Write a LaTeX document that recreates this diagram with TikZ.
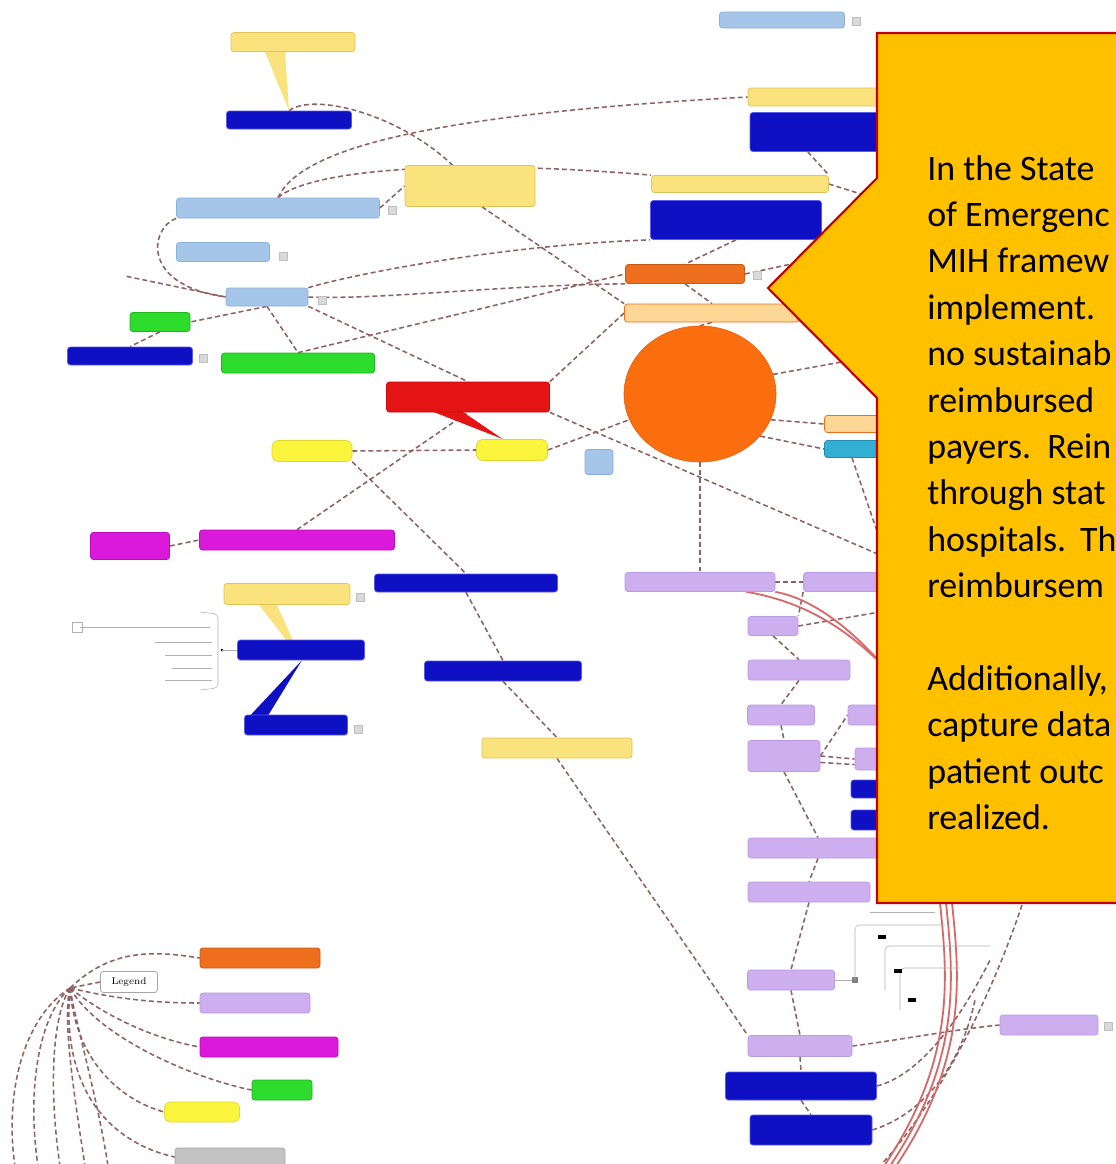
\documentclass[tikz,border=0pt]{standalone}
\usepackage{fontspec}
\newfontfamily\calloutfont{Carlito}
\usetikzlibrary{calc}
\usetikzlibrary{shapes.geometric}

\definecolor{paleyellow}{RGB}{250,226,125}
\definecolor{paleyellowdk}{RGB}{225,195,90}
\definecolor{brightyellow}{RGB}{250,245,60}
\definecolor{brightyellowdk}{RGB}{225,215,50}
\definecolor{deepblue}{RGB}{15,15,195}
\definecolor{deepbluelt}{RGB}{90,90,235}
\definecolor{skyblue}{RGB}{165,198,232}
\definecolor{skybluedk}{RGB}{140,175,215}
\definecolor{mindorange}{RGB}{238,112,30}
\definecolor{mindorangedk}{RGB}{200,90,20}
\definecolor{paleorange}{RGB}{252,215,150}
\definecolor{mindgreen}{RGB}{45,220,45}
\definecolor{mindgreendk}{RGB}{30,180,30}
\definecolor{mindred}{RGB}{228,20,20}
\definecolor{mindreddk}{RGB}{200,10,10}
\definecolor{mindmag}{RGB}{218,25,218}
\definecolor{mindmagdk}{RGB}{190,10,190}
\definecolor{lilac}{RGB}{205,175,240}
\definecolor{lilacdk}{RGB}{185,155,225}
\definecolor{mindcyan}{RGB}{50,175,210}
\definecolor{mindcyandk}{RGB}{30,140,180}
\definecolor{lightgrey}{RGB}{195,195,195}
\definecolor{midgrey}{RGB}{165,165,165}
\definecolor{hubfill}{RGB}{250,110,15}
\definecolor{hubdk}{RGB}{230,95,10}
\definecolor{linkbrown}{RGB}{140,98,98}
\definecolor{bandred}{RGB}{215,105,105}
\definecolor{calloutfill}{RGB}{255,192,0}
\definecolor{calloutred}{RGB}{192,0,0}

\pgfdeclarelayer{background}
\pgfsetlayers{background,main}

\begin{document}
\begin{tikzpicture}[
        x=0.025cm, y=-0.025cm,
        mapbox/.style={rounded corners=2pt, inner sep=0pt, line width=0.5pt},
        sz/.style 2 args={minimum width=#1*0.025cm, minimum height=#2*0.025cm},
        paleybox/.style={mapbox, fill=paleyellow, draw=paleyellowdk},
        ybox/.style={mapbox, rounded corners=4pt, fill=brightyellow, draw=brightyellowdk},
        bbox/.style={mapbox, fill=deepblue, draw=deepbluelt},
        lbbox/.style={mapbox, fill=skyblue, draw=skybluedk},
        obox/.style={mapbox, fill=mindorange, draw=mindorangedk},
        lobox/.style={mapbox, fill=paleorange, draw=mindorange},
        gbox/.style={mapbox, fill=mindgreen, draw=mindgreendk},
        rbox/.style={mapbox, fill=mindred, draw=mindreddk},
        mbox/.style={mapbox, fill=mindmag, draw=mindmagdk},
        pbox/.style={mapbox, fill=lilac, draw=lilacdk},
        cbox/.style={mapbox, fill=mindcyan, draw=mindcyandk},
        gybox/.style={mapbox, fill=lightgrey, draw=midgrey},
        memo/.style={fill=gray!30, draw=gray!50, line width=0.3pt, inner sep=0pt,
            minimum size=0.2cm},
        link/.style={draw=linkbrown, line width=1.1pt, dash pattern=on 3.5pt off 2.2pt},
        redband/.style={draw=bandred, line width=1.3pt},
        listline/.style={draw=gray!60, line width=0.4pt},
        callout/.style={fill=calloutfill, draw=calloutred, line width=1.5pt},
        calltext/.style={font=\calloutfont\fontsize{25.5}{30}\selectfont, inner sep=0pt}
    ]

    \useasboundingbox (0,0) rectangle (1116,1164);

    % upper part of the map
    \node[lbbox, sz={125}{16}] (demand) at (782,20) {};
    \node[paleybox, sz={124}{19}] (partner) at (293,42) {};
    \node[bbox, sz={125}{18}] (major) at (289,120) {};
    \node[paleybox, sz={132}{18}] (innov) at (814,97) {};
    \node[bbox, sz={130}{39}] (payment) at (815,132) {};
    \node[paleybox, sz={130}{41}] (note) at (470,186) {};
    \node[lbbox, sz={203}{20}] (research) at (278,208) {};
    \node[paleybox, sz={177}{17}] (demo) at (740,184) {};
    \node[bbox, sz={171}{39}] (reform) at (736,220) {};
    \node[lbbox, sz={93}{19}] (ehtext) at (223,252) {};
    \node[obox, sz={119}{19}] (policy) at (685,274) {};
    \node[lbbox, sz={82}{18}] (cost) at (267,297) {};
    \node[lobox, sz={175}{18}] (econ) at (712,313) {};
    \node[gbox, sz={60}{19}] (mihcp) at (160,322) {};
    \node[bbox, sz={125}{18}] (legis) at (130,356) {};
    \node[gbox, sz={153}{20}] (care) at (298,363) {};
    \node[rbox, sz={163}{30}] (gap) at (468,397) {};
    \node[ellipse, fill=hubfill, draw=hubdk, inner sep=0pt,
        minimum width=3.8cm, minimum height=3.4cm] (hub) at (700,394) {};
    \node[ybox, sz={80}{21}] (ecos) at (312,451) {};
    \node[ybox, sz={71}{21}] (fund) at (512,450) {};
    \node[lbbox, sz={28}{25}] (tiny) at (599,462) {};
    \node[lobox, sz={55}{17}] (drv) at (852,424) {};
    \node[cbox, sz={55}{17}] (ref) at (852,449) {};

    % middle part
    \node[mbox, sz={79}{27}] (magA) at (130,546) {};
    \node[mbox, sz={195}{20}] (magB) at (297,540) {};
    \node[bbox, sz={183}{18}] (shiftA) at (466,583) {};
    \node[paleybox, sz={126}{21}] (rural) at (287,594) {};
    \node[bbox, sz={127}{20}] (quality) at (301,650) {};
    \node[bbox, sz={157}{20}] (shiftB) at (503,671) {};
    \node[bbox, sz={103}{20}] (access) at (296,725) {};
    \node[paleybox, sz={150}{20}] (future) at (557,748) {};

    % purple branch
    \node[pbox, sz={150}{19}] (outcome) at (700,582) {};
    \node[pbox, sz={77}{19}] (pA) at (842,582) {};
    \node[pbox, sz={50}{19}] (pB) at (773,626) {};
    \node[pbox, sz={102}{20}] (pC) at (799,670) {};
    \node[pbox, sz={67}{20}] (pD) at (781,715) {};
    \node[pbox, sz={40}{20}] (pE) at (868,715) {};
    \node[pbox, sz={72}{31}] (pF) at (784,756) {};
    \node[pbox, sz={30}{22}] (pG) at (870,759) {};
    \node[bbox, sz={30}{18}] (bA) at (866,789) {};
    \node[bbox, sz={30}{20}] (bB) at (866,820) {};
    \node[pbox, sz={140}{20}] (pH) at (818,848) {};
    \node[pbox, sz={122}{20}] (pI) at (809,892) {};
    \node[pbox, sz={87}{20}] (pJ) at (791,980) {};
    \node[pbox, sz={104}{21}] (pK) at (800,1046) {};
    \node[bbox, sz={151}{28}] (bC) at (801,1086) {};
    \node[bbox, sz={122}{30}] (bD) at (811,1130) {};
    \node[pbox, sz={98}{20}] (pL) at (1049,1025) {};

    % legend
    \node[mapbox, fill=white, draw=midgrey, sz={57}{21},
        font=\fontsize{7}{8}\selectfont] (legend) at (129,982) {Legend};
    \node[obox, sz={120}{20}] (lgA) at (260,958) {};
    \node[pbox, sz={110}{20}] (lgB) at (255,1003) {};
    \node[mbox, sz={138}{20}] (lgC) at (269,1047) {};
    \node[gbox, sz={60}{20}] (lgD) at (282,1090) {};
    \node[ybox, sz={75}{20}] (lgE) at (202,1112) {};
    \node[gybox, sz={110}{18}] (lgF) at (230,1157) {};

    % note icons beside some topics
    \node[memo] (mDemand) at (856,21) {};
    \node[memo] (mResearch) at (392,210) {};
    \node[memo] (mEhtext) at (283,256) {};
    \node[memo] (mCost) at (322,300) {};
    \node[memo] (mLegis) at (203,358) {};
    \node[memo] (mRural) at (360,597) {};
    \node[memo] (mAccess) at (358,729) {};
    \node[memo] (mPolicy) at (757,275) {};
    \node[memo] (mPL) at (1108,1026) {};

    \coordinate (stub) at (125,276);
    \coordinate (hideA) at (880,555);
    \coordinate (hideB) at (880,200);
    \coordinate (hideC) at (880,245);
    \coordinate (hideD) at (880,355);
    \coordinate (hideE) at (880,540);
    \coordinate (hideF) at (880,612);
    \coordinate (hideG) at (990,960);
    \coordinate (hideH) at (975,1000);
    \coordinate (hideI) at (1022,905);
    \coordinate (hideJ) at (880,1166);
    \coordinate (hideL) at (880,662);
    \coordinate (lhub) at (70,988);

    \begin{pgfonlayer}{background}
        \fill[white] (0,0) rectangle (1116,1164);

        \draw[link] (major.north) .. controls (315,92) and (400,115) .. (note.130);
        \draw[link] (note.-60) -- (econ.north west);
        \draw[link] (research.north) .. controls (300,150) and (420,115) .. (innov.west);
        \draw[link] (research.north) .. controls (310,170) and (450,158) .. (demo.north west);
        \draw[link] (research.east) -- (note.west);
        \draw[link] (research.south west) .. controls (150,228) and (140,285) .. (cost.west);
        \draw[link] (cost.west) -- (stub);
        \draw[link] (cost.south) -- (mihcp.east);
        \draw[link] (mihcp.south) -- (legis.north);
        \draw[link] (cost.south) -- (care.north);
        \draw[link] (cost.south east) -- (gap.north);
        \draw[link] (care.north) -- (policy.west);
        \draw[link] (cost.north east) .. controls (350,275) and (500,245) .. (reform.south west);
        \draw[link] (cost.east) .. controls (380,300) and (500,285) .. (policy.south west);
        \draw[link] (econ.west) -- (gap.north east);
        \draw[link] (gap.south east) -- (hideA);
        \draw[link] (ecos.east) -- (fund.west);
        \draw[link] (magB.north) -- (gap.south);
        \draw[link] (magA.east) -- (magB.west);
        \draw[link] (ecos.south east) -- (shiftA.north);
        \draw[link] (shiftA.south) -- (shiftB.north);
        \draw[link] (shiftB.south) -- (future.north);
        \draw[link] (future.south) -- (pK.north west);
        \draw[link] (fund.east) -- (hub.200);
        \draw[link] (hub.south) -- (outcome.north);
        \draw[link] (econ.south) -- (hub.north);
        \draw[link] (policy.south) -- (econ.north);
        \draw[link] (reform.south) -- (policy.north);
        \draw[link] (payment.250) -- (demo.north east);
        \draw[link] (demo.east) -- (hideB);
        \draw[link] (policy.east) -- (hideC);
        \draw[link] (hub.15) -- (hideD);
        \draw[link] (hub.-20) -- (drv.west);
        \draw[link] (hub.-35) -- (ref.west);
        \draw[link] (ref.south) -- (hideE);

        \draw[link] (outcome.east) -- (pA.west);
        \draw[link] (pA.south west) -- (pB.north east);
        \draw[link] (pB.east) -- (hideF);
        \draw[link] (pB.south) -- (pC.north);
        \draw[link] (pC.south) -- (pD.north);
        \draw[link] (pD.south) -- (pF.north);
        \draw[link] (pF.east) -- (pE.west);
        \draw[link] (pF.east) -- (pG.west);
        \draw[link] (pF.-10) -- (pG.200);
        \draw[link] (pF.south) -- (pH.north);
        \draw[link] (pH.south) -- (pI.north);
        \draw[link] (pI.south) -- (pJ.north);
        \draw[link] (pJ.south) -- (pK.north);
        \draw[link] (pK.south) -- (bC.north);
        \draw[link] (bC.south) -- (bD.north);
        \draw[link] (pK.east) .. controls (900,1040) and (950,1030) .. (pL.west);
        \draw[link] (bC.east) .. controls (920,1075) and (960,1020) .. (hideG);
        \draw[link] (bD.east) .. controls (920,1115) and (960,1070) .. (hideH);
        \draw[link] (hideI) .. controls (990,1000) and (940,1100) .. (hideJ);

        \draw[redband] (outcome.south east) .. controls (820,600) and (860,640) .. (hideL);
        \draw[redband] (outcome.-12) .. controls (825,605) and (865,650) .. (hideL);
        \foreach \dx in {0,6,12} {
            \draw[redband] (940+\dx,903) .. controls (948+\dx,980) and (955+\dx,1060)
                .. (884+\dx,1166);
        }

        % legend fan
        \draw[link] (legend.west) -- (lhub);
        \draw[link] (lhub) .. controls (110,950) and (150,950) .. (lgA.west);
        \draw[link] (lhub) .. controls (120,1000) and (160,1003) .. (lgB.west);
        \draw[link] (lhub) .. controls (110,1020) and (160,1040) .. (lgC.west);
        \draw[link] (lhub) .. controls (100,1040) and (200,1080) .. (lgD.west);
        \draw[link] (lhub) .. controls (75,1060) and (120,1100) .. (lgE.west);
        \draw[link] (lhub) .. controls (60,1100) and (120,1145) .. (lgF.west);
        \foreach \bx/\cx in {15/20, 38/35, 60/50, 85/62, 108/75} {
            \draw[link] (lhub) .. controls (\cx,1020) and (\bx-10,1100) .. (\bx,1166);
        }

        % pointer tails
        \fill[paleyellow] ($(partner.south)+(-28,0)$) -- ($(partner.south)+(-8,0)$) -- (major.north) -- cycle;
        \fill[mindred] ($(gap.south)+(-36,-1)$) -- ($(gap.south)+(-6,-1)$) -- (fund.130) -- cycle;
        \fill[paleyellow] ($(rural.south)+(-28,0)$) -- ($(rural.south)+(-10,0)$) -- (quality.-85) -- cycle;
        \fill[deepblue] ($(access.north)+(-46,1)$) -- ($(access.north)+(-28,1)$) -- (quality.-85) -- cycle;
    \end{pgfonlayer}

    % small list beside the quality node
    \draw[listline] (80,627) -- (210,627);
    \draw[listline] (72,622) rectangle (82,632);
    \draw[listline, rounded corners=3pt] (200,612) -- (218,614) -- (218,688) -- (200,690);
    \draw[listline] (155,642) -- (212,642);
    \draw[listline] (165,655) -- (212,655);
    \draw[listline] (172,668) -- (212,668);
    \draw[listline] (165,680) -- (212,680);
    \fill (222,650) circle (1.5);
    \draw[listline] (222,650) -- (quality.west);

    % small list beside pJ
    \draw[listline] (pJ.east) -- (855,980);
    \fill[gray] (852,977) rectangle (858,983);
    \draw[listline, rounded corners=3pt] (855,980) -- (855,925) -- (945,925);
    \draw[listline] (870,912) -- (935,912);
    \draw[listline, rounded corners=3pt] (885,990) -- (885,946) -- (990,946);
    \draw[listline, rounded corners=3pt] (900,1010) -- (900,968) -- (960,968);
    \fill (878,935) rectangle (886,939);
    \fill (894,969) rectangle (902,973);
    \fill (908,998) rectangle (916,1002);

    % callout
    \draw[callout] (877,33) -- (1130,33) -- (1130,903) -- (877,903) -- (877,398)
        -- (768,288) -- (877,178) -- cycle;
    \foreach \n/\txt in {0/In the State, 1/of Emergenc, 2/MIH framew, 3/implement.,
        4/no sustainab, 5/reimbursed, 6/{payers.\ \ Rein}, 7/through stat,
        8/{hospitals.\ \,Th}, 9/reimbursem, 11/{Additionally,}, 12/capture data,
        13/patient outc, 14/realized.} {
        \node[calltext, anchor=base west] (cl\n) at (927,{180+46.4*\n}) {\txt};
    }
\end{tikzpicture}
\end{document}
